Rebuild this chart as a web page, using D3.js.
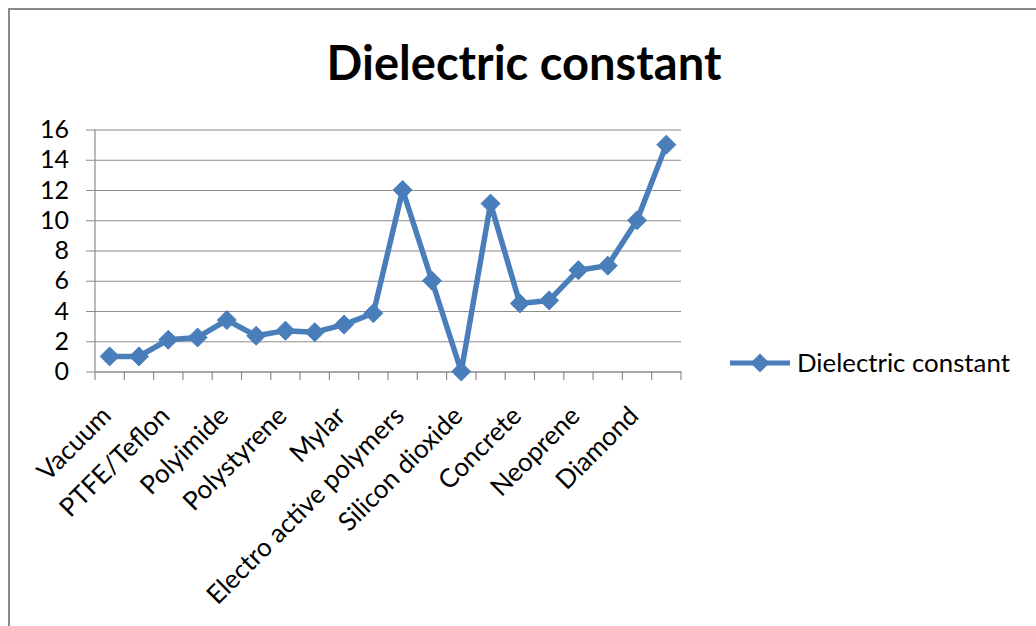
<!DOCTYPE html>
<html>
<head>
<meta charset="utf-8">
<script src="https://cdn.jsdelivr.net/npm/d3@7"></script>
<style>
  html, body { margin: 0; padding: 0; background: #fff; }
  svg { display: block; }
  text { font-family: Lato, "Open Sans", sans-serif; fill: #000; }
</style>
</head>
<body>
<svg id="chart" width="1036" height="626"></svg>
<script>
// Relative permittivity of common materials
const materials = [
  "Vacuum", "Air", "PTFE/Teflon", "Polyethylene", "Polyimide",
  "Polypropylene", "Polystyrene", "Carbon disulfide", "Mylar", "Paper",
  "Electro active polymers", "Mica", "Silicon dioxide", "Sapphire", "Concrete",
  "Pyrex", "Neoprene", "Rubber", "Diamond", "Salt"
];
const dielectric = [
  1, 1, 2.1, 2.25, 3.4,
  2.36, 2.7, 2.6, 3.1, 3.85,
  12, 6, 0, 11.1, 4.5,
  4.7, 6.7, 7, 10, 15
];
const yTicks = [0, 2, 4, 6, 8, 10, 12, 14, 16];
const chartTitle = "Dielectric constant";
const seriesName = "Dielectric constant";

const svg = d3.select("#chart");
const blue = "#4a7ebb";
const gridGray = "#8c8c8c";

// outer chart frame
svg.append("rect")
  .attr("x", 9).attr("y", 9)
  .attr("width", 1100).attr("height", 700)
  .attr("fill", "none")
  .attr("stroke", "#8a8a8a")
  .attr("stroke-width", 2);

const plot = { left: 95, right: 681, top: 129.5, bottom: 371.5 };

const x = d3.scaleBand()
  .domain(materials)
  .range([plot.left, plot.right])
  .paddingInner(0).paddingOuter(0);

const y = d3.scaleLinear()
  .domain([0, 16])
  .range([plot.bottom, plot.top]);

const cx = d => x(d) + x.bandwidth() / 2;

// horizontal gridlines with y axis labels
const yAxis = d3.axisLeft(y)
  .tickValues(yTicks)
  .tickSize(0)
  .tickFormat(d3.format("d"));

const gy = svg.append("g")
  .attr("transform", `translate(${plot.left - 9},0)`)
  .call(yAxis);
gy.select(".domain").remove();
gy.selectAll(".tick line")
  .attr("stroke", gridGray)
  .attr("stroke-width", 1.2)
  .attr("x1", 0)
  .attr("x2", plot.right - plot.left + 9);
gy.selectAll(".tick text")
  .attr("x", -17)
  .style("font-size", "25px")
  .style("font-family", "Lato, sans-serif")
  .attr("fill", "#000");

// vertical axis line
svg.append("line")
  .attr("x1", plot.left).attr("x2", plot.left)
  .attr("y1", plot.top).attr("y2", plot.bottom)
  .attr("stroke", gridGray).attr("stroke-width", 1.2);

// category axis with ticks between categories
const gx = svg.append("g")
  .attr("transform", `translate(0,${plot.bottom})`)
  .call(d3.axisBottom(x).tickSize(0).tickFormat(""));
gx.select(".domain")
  .attr("stroke", gridGray).attr("stroke-width", 1.2);
gx.selectAll(".tick").remove();

const boundaries = materials.map(m => x(m)).concat([plot.right]);
gx.selectAll("line.sep")
  .data(boundaries)
  .join("line")
  .attr("class", "sep")
  .attr("x1", d => d).attr("x2", d => d)
  .attr("y1", 0).attr("y2", 8.5)
  .attr("stroke", gridGray).attr("stroke-width", 1.2);

// rotated category labels, every other category
svg.append("g")
  .selectAll("text")
  .data(materials.filter((d, i) => i % 2 === 0))
  .join("text")
  .attr("transform", d => `translate(${cx(d) + 3},${plot.bottom + 46}) rotate(-45)`)
  .attr("text-anchor", "end")
  .style("font-size", "26px")
  .text(d => d);

// series line
const line = d3.line()
  .x((d, i) => cx(materials[i]))
  .y(d => y(d));

svg.append("path")
  .datum(dielectric)
  .attr("d", line)
  .attr("fill", "none")
  .attr("stroke", blue)
  .attr("stroke-width", 5.5)
  .attr("stroke-linejoin", "round");

// diamond marker, half-diagonal r
const r = 9.5;
const diamond = `M0,${-r}L${r},0L0,${r}L${-r},0Z`;

svg.append("g")
  .selectAll("path")
  .data(dielectric)
  .join("path")
  .attr("transform", (d, i) => `translate(${cx(materials[i])},${y(d)})`)
  .attr("d", diamond)
  .attr("fill", blue)
  .attr("stroke", blue)
  .attr("stroke-width", 1)
  .attr("stroke-linejoin", "round");

// title
const title = svg.append("text")
  .attr("x", 524)
  .attr("y", 80)
  .attr("text-anchor", "middle")
  .style("font-weight", "bold")
  .style("font-size", "100px")
  .text(chartTitle);
const tw = title.node().getComputedTextLength();
title.style("font-size", (100 * 395 / tw) + "px");

// legend
const lg = svg.append("g").attr("transform", "translate(730,363)");
lg.append("line")
  .attr("x1", 0).attr("x2", 60)
  .attr("y1", 0).attr("y2", 0)
  .attr("stroke", blue).attr("stroke-width", 5);
lg.append("path")
  .attr("transform", "translate(30,0)")
  .attr("d", diamond)
  .attr("fill", blue);
const lt = lg.append("text")
  .attr("x", 67)
  .attr("y", 0)
  .attr("dy", "0.36em")
  .style("font-size", "100px")
  .text(seriesName);
const lw = lt.node().getComputedTextLength();
lt.style("font-size", (100 * 213 / lw) + "px");
</script>
</body>
</html>
